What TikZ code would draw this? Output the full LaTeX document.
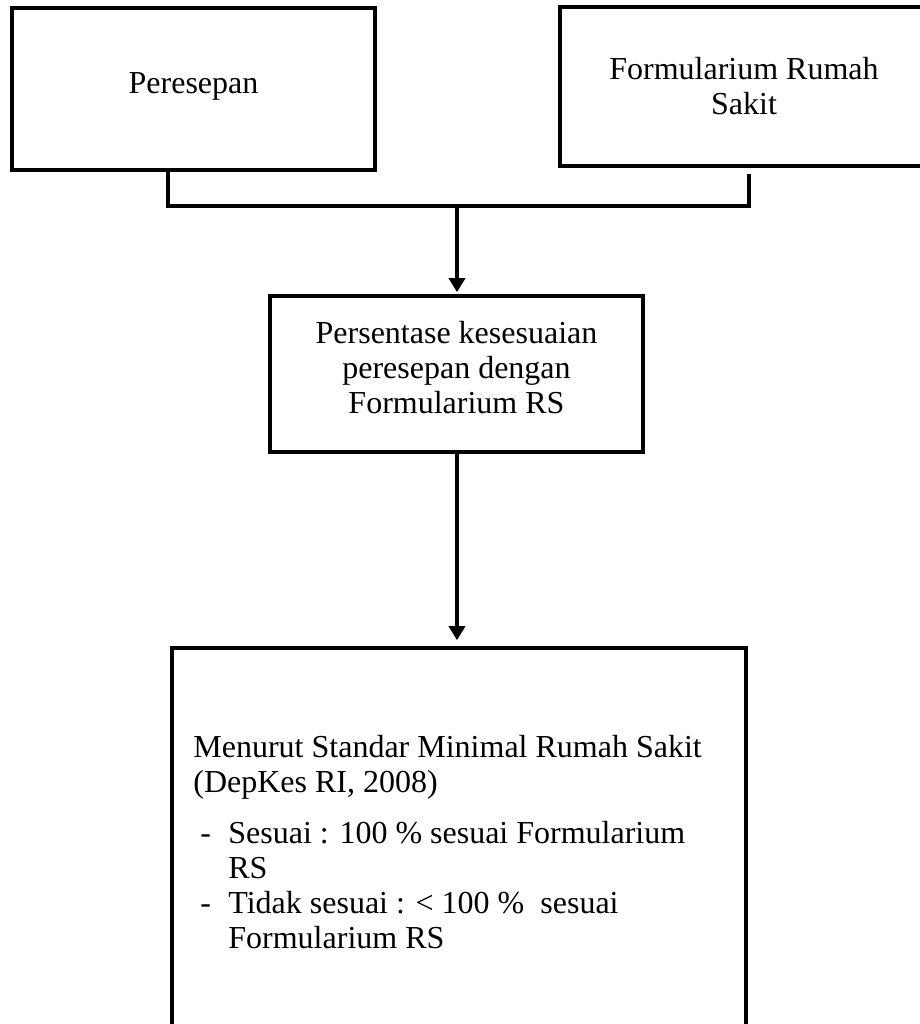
\documentclass[tikz,border=0pt]{standalone}
\usepackage{fontspec}
\setmainfont{Liberation Serif}
\usetikzlibrary{arrows.meta}
\tikzset{
    box/.style={draw, line width=1.8pt, inner sep=0pt, align=center,
        font=\fontsize{16}{17.5}\selectfont},
    note/.style={inner sep=0pt, align=left, font=\fontsize{16}{17.5}\selectfont},
    flow/.style={line width=1.8pt, -{Triangle[width=8pt,length=7pt]}}
}
\newcommand{\lift}[1]{\rule[-#1]{0pt}{#1}}
\begin{document}
\begin{tikzpicture}[x=0.5pt,y=-0.5pt]
        \clip (0,0) rectangle (920,1024);
        \node[box, minimum width=181.5pt, minimum height=81pt] (resep) at (193.5,89) {Peresepan\lift{6pt}};
        \node[box, minimum width=184pt, minimum height=79.5pt] (formrs) at (744,86.5) {Formularium Rumah\\Sakit};
        \node[box, minimum width=186.5pt, minimum height=78pt] (persen) at (456.5,374) {Persentase kesesuaian\\peresepan dengan\\Formularium RS\lift{7pt}};
        \node[box, minimum width=287pt, minimum height=198pt] (standar) at (459,846) {};

        % join of the two inputs
        \coordinate (jl) at (168,206);
        \coordinate (jr) at (749,206);
        \coordinate (jm) at (457,206);
        \draw[line width=1.8pt] (resep.south -| jl) -- (jl) -- (jr) -- ([yshift=-3pt]formrs.south -| jr);
        \draw[flow, shorten >=1pt] (jm) -- (persen.north -| jm);
        \draw[flow, shorten >=3pt] (persen.south -| jm) -- (standar.north -| jm);

        \node[note, anchor=north west] (kriteria) at (193,735) {Menurut Standar Minimal Rumah Sakit\\
            (DepKes RI, 2008)\\[8pt]
            \makebox[17.5pt][l]{\hspace*{3.5pt}-}Sesuai : 100 \% sesuai Formularium\\
            \hspace*{17.5pt}RS\\
            \makebox[17.5pt][l]{\hspace*{3.5pt}-}Tidak sesuai : \textless{} 100 \%\ \ sesuai\\
            \hspace*{17.5pt}Formularium RS};
    \end{tikzpicture}
\end{document}
